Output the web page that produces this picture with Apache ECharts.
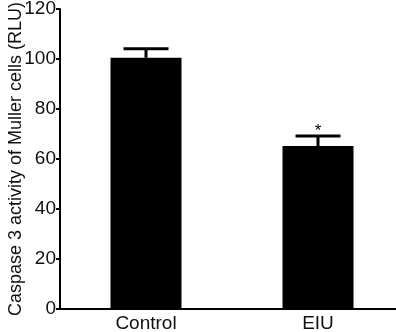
<!DOCTYPE html>
<html lang="en">
<head>
    <meta charset="UTF-8">
    <title>Caspase 3 activity</title>
    <style>html,body{margin:0;padding:0;background:#fff;}</style>
</head>
<body>
    <div id="main" style="width: 396px;height:332px;"></div>
<script src="https://cdn.jsdelivr.net/npm/echarts@6/dist/echarts.min.js"></script>
<script type="text/javascript">
    // data
    var categories = ['Control', 'EIU'];
    var means = [100.5, 65.2];
    var errors = [3.6, 4.0];
    var marks = ['', '*'];
    var yTicks = [0, 20, 40, 60, 80, 100, 120];

    var font = 'Liberation Sans, Arial, sans-serif';
    var myChart = echarts.init(document.getElementById('main'));

    var errData = categories.map(function (c, i) {
        return [i, means[i], means[i] + errors[i]];
    });

    var option = {
        animation: false,
        grid: { left: 60, width: 344, top: 9, bottom: 23, containLabel: false, outerBoundsMode: 'none' },
        xAxis: {
            type: 'category',
            data: categories,
            axisLine: { lineStyle: { color: '#000', width: 2 } },
            axisTick: { alignWithLabel: true, length: 4, lineStyle: { color: '#000', width: 2 } },
            axisLabel: { color: '#111', fontSize: 19, fontFamily: font, margin: 5 }
        },
        yAxis: {
            type: 'value',
            min: yTicks[0],
            max: yTicks[yTicks.length - 1],
            interval: 20,
            name: 'Caspase 3 activity of Muller cells (RLU)',
            nameLocation: 'middle',
            nameGap: 35,
            nameMoveOverlap: false,
            nameTextStyle: { color: '#111', fontSize: 18, fontFamily: font },
            splitLine: { show: false },
            axisLine: { show: true, lineStyle: { color: '#000', width: 2 } },
            axisTick: { show: true, length: 4, lineStyle: { color: '#000', width: 2 } },
            axisLabel: { color: '#111', fontSize: 19, fontFamily: font, margin: 4 }
        },
        series: [{
            type: 'bar',
            data: means,
            barWidth: 71,
            itemStyle: { color: '#000' },
            z: 2
        }, {
            type: 'custom',
            data: errData,
            z: 3,
            renderItem: function (params, api) {
                var base = api.coord([api.value(0), api.value(1)]);
                var top = api.coord([api.value(0), api.value(2)]);
                var half = 22.5;
                var kids = [{
                    type: 'line',
                    shape: { x1: base[0], y1: base[1], x2: top[0], y2: top[1] },
                    style: { stroke: '#000', lineWidth: 3 }
                }, {
                    type: 'line',
                    shape: { x1: top[0] - half, y1: top[1], x2: top[0] + half, y2: top[1] },
                    style: { stroke: '#000', lineWidth: 3 }
                }];
                var m = marks[params.dataIndex];
                if (m) {
                    kids.push({
                        type: 'text',
                        style: { text: m, x: top[0], y: top[1] + 4, textAlign: 'center', textVerticalAlign: 'bottom',
                                 fill: '#000', fontSize: 17, fontFamily: font }
                    });
                }
                return { type: 'group', children: kids };
            }
        }]
    };
    myChart.setOption(option);
</script>
</body>
</html>
